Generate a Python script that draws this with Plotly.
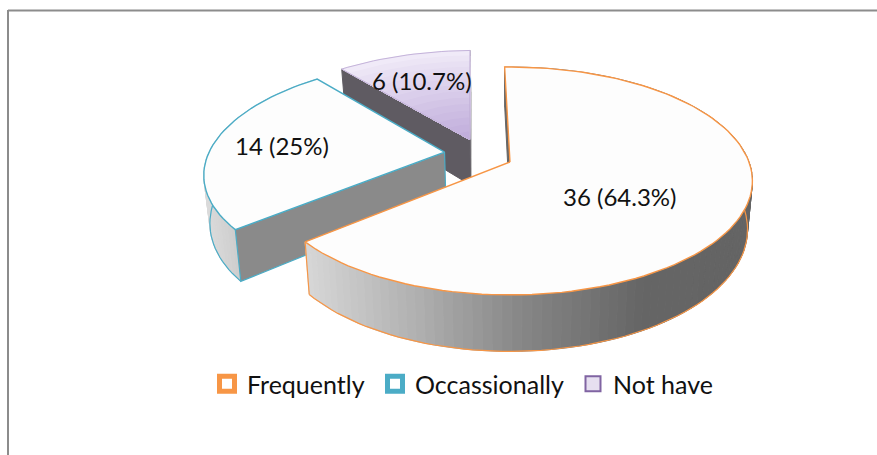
import math
import numpy as np
import plotly.graph_objects as go

categories = ["Frequently", "Occassionally", "Not have"]
values = [36, 14, 6]
edge_colors = ["#F79646", "#4BACC6", "#8064A2"]

# projection of the tilted disc onto the page
CX, CY, R, RT, D, P, START = 510, 162, 239, 110.8, 47, 1 / 6, -1.5
offsets = [(0, 0), (-0.278, 0.09), (-0.175, 0.21)]
total = sum(values)


def proj(X, Y, low=False):
    s = 1 / (1 + P * Y)
    x = CX + s * X * R
    y = CY - s * Y * RT
    if low:
        x = CX + (x - CX) * 0.98
        y = y + D * s
    return x, y


def rim(a, off, r=1.0, low=False):
    t = math.radians(a)
    return proj(off[0] + r * math.sin(t), off[1] + r * math.cos(t), low)


def lerp_gray(stops, v):
    xs = [q[0] for q in stops]
    return "rgb(%d,%d,%d)" % tuple(int(np.interp(v, xs, [q[1][i] for q in stops])) for i in range(3))


WALL = [(300, (218, 218, 218)), (420, (175, 175, 175)), (520, (135, 135, 135)), (640, (102, 102, 102)), (760, (100, 100, 100))]
fig = go.Figure()


def poly(pts, fill, line=None, width=1):
    xs = [p[0] for p in pts] + [pts[0][0]]
    ys = [p[1] for p in pts] + [pts[0][1]]
    fig.add_trace(go.Scatter(x=xs, y=ys, mode="lines", fill="toself", fillcolor=fill,
                             line=dict(color=line or fill, width=width), hoverinfo="skip", showlegend=False))


def path(pts, color, width=1.5):
    fig.add_trace(go.Scatter(x=[p[0] for p in pts], y=[p[1] for p in pts], mode="lines",
                             line=dict(color=color, width=width), hoverinfo="skip", showlegend=False))


angles = []
a = START
for v in values:
    b = a + 360 * v / total
    angles.append((a, b))
    a = b

# painter's order: back slice first
for i in [2, 1, 0]:
    a0, a1 = angles[i]
    off = offsets[i]
    edge = edge_colors[i]
    apex_t, apex_b = proj(*off), proj(*off, True)
    arc = list(np.linspace(a0, a1, max(int(a1 - a0) // 2, 8) + 1))

    if i == 2:  # back slice: shadow at its right side, dark cut face
        path([apex_b, rim(a1, off, 0.5, False)], "#b5b5b5", 3)
        poly([apex_b, apex_t, rim(a1, off), rim(a1, off, 1, True)], "#77747a")
        poly([apex_t, rim(a0, off), rim(a0, off, 1, True), apex_b], "#5f5b62")
    else:
        # outer wall, coloured strip by strip
        for u, w in zip(arc[:-1], arc[1:]):
            q = [rim(u, off), rim(w, off), rim(w, off, 1, True), rim(u, off, 1, True)]
            xm = sum(p[0] for p in q) / 4
            c = lerp_gray(WALL, xm) if i == 0 else lerp_gray([(200, (222, 222, 222)), (240, (205, 205, 205))], xm)
            poly(q, c)
        path([rim(u, off, 1, True) for u in arc], edge, 1.2)
        if i == 1:
            poly([apex_t, rim(a0, off), rim(a0, off, 1, True), apex_b], "#8a8a8a", edge, 1.2)
        if i == 0:
            path([rim(a1, off), rim(a1, off, 1, True)], edge, 1.2)
            poly([apex_t, rim(a0, off), rim(a0, off, 1, True), apex_b], "#666666")

    # top face
    top = [apex_t] + [rim(u, off) for u in arc]
    if i == 2:
        for k in range(14, 0, -1):
            f = k / 14
            c = lerp_gray([(0, (190, 170, 218)), (1, (240, 234, 248))], f)
            poly([apex_t] + [rim(u, off, f) for u in arc], c)
        path(top + [apex_t], "#C4B3DA", 1)
    else:
        poly(top, "#FDFDFD", edge, 1.4)

# legend entries
marker_fill = ["#FFFFFF", "#FFFFFF", "#E6DFF0"]
marker_line = [5, 5, 2]
marker_size = [15, 15, 15]
entry_width = [123, 153, 110]
for name, col, fc, lw, ms, ew in zip(categories, edge_colors, marker_fill, marker_line, marker_size, entry_width):
    fig.add_trace(go.Scatter(x=[None], y=[None], mode="markers", name=name, legendwidth=ew,
                             marker=dict(symbol="square", size=ms, color=fc, line=dict(color=col, width=lw))))

label_pos = [(619, 196), (282, 145), (422, 80)]
for v, (x, y) in zip(values, label_pos):
    fig.add_annotation(x=x, y=y, text=f"{v} ({round(100 * v / total, 1):g}%)", showarrow=False,
                       font=dict(family="Lato", size=24, color="#111111"))

fig.add_shape(type="line", x0=8, x1=877, y0=10.5, y1=10.5, line=dict(color="#8c8c8c", width=2))
fig.add_shape(type="line", x0=8, x1=8, y0=10, y1=455, line=dict(color="#8c8c8c", width=2))

fig.update_layout(
    width=877, height=455, autosize=False, margin=dict(l=0, r=0, t=0, b=0),
    paper_bgcolor="white", plot_bgcolor="white",
    xaxis=dict(range=[0, 877], visible=False, fixedrange=True),
    yaxis=dict(range=[455, 0], visible=False, fixedrange=True),
    legend=dict(orientation="h", x=207 / 877, xanchor="left", y=1 - 384 / 455, yanchor="middle",
                font=dict(family="Lato", size=25, color="#111111"), bgcolor="rgba(0,0,0,0)"),
)
fig.write_html("out.html", post_script="document.body.style.margin='0';", config=dict(displayModeBar=False))
